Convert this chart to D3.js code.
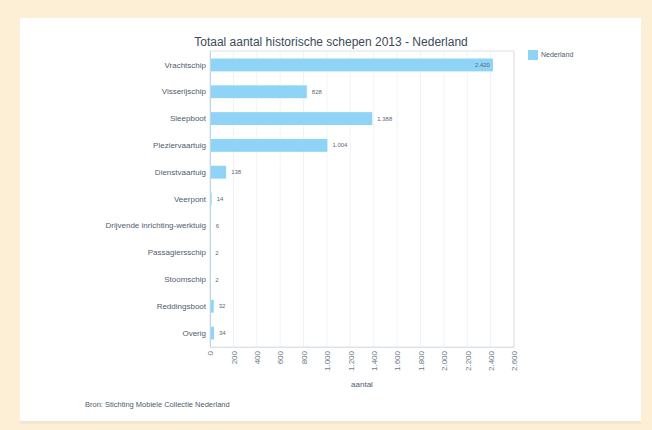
<!DOCTYPE html>
<html>
<head>
    <meta charset="utf-8">
    <title>Totaal aantal historische schepen 2013 - Nederland</title>
    <script src="https://d3js.org/d3.v7.min.js"></script>
    <style>
        body { margin: 0; background: #fdefd6; font-family: "Liberation Sans", Arial, sans-serif; }
        svg { display: block; }
    </style>
</head>
<body>
<script>
    var categories = ["Vrachtschip", "Visserijschip", "Sleepboot", "Pleziervaartuig", "Dienstvaartuig", "Veerpont",
        "Drijvende inrichting-werktuig", "Passagiersschip", "Stoomschip", "Reddingsboot", "Overig"];
    var values = [2420, 828, 1388, 1004, 138, 14, 6, 2, 2, 32, 34];
    var xTicks = [0, 200, 400, 600, 800, 1000, 1200, 1400, 1600, 1800, 2000, 2200, 2400, 2600];
    var seriesName = "Nederland";

    var W = 652, H = 430;
    var margin = {top: 51, right: 138, bottom: 83, left: 210};
    var width = W - margin.left - margin.right,
        height = H - margin.top - margin.bottom;

    var fmt = function(v) { return d3.format(",")(v).replace(/,/g, "."); };

    var svg = d3.select("body").append("svg").attr("width", W).attr("height", H);

    // white panel on beige background
    svg.append("rect").attr("x", 20).attr("y", 18).attr("width", 621).attr("height", 405)
        .attr("fill", "#ffffff");
    svg.append("rect").attr("x", 20).attr("y", 421).attr("width", 621).attr("height", 3)
        .attr("fill", "#f1e6cf");

    var x = d3.scaleLinear().domain([0, 2600]).range([0, width]);
    var y = d3.scaleBand().domain(categories).range([0, height]).paddingInner(0.52).paddingOuter(0.28);

    var g = svg.append("g").attr("transform", "translate(" + margin.left + "," + margin.top + ")");

    // grid
    g.selectAll(".grid").data(xTicks.slice(1)).enter().append("line")
        .attr("x1", d => x(d)).attr("x2", d => x(d))
        .attr("y1", 0).attr("y2", height)
        .attr("stroke", "#f0f3f6").attr("stroke-width", 1);

    g.append("rect").attr("x", 0).attr("y", 0).attr("width", width).attr("height", height)
        .attr("fill", "none").attr("stroke", "#dde3ea");

    // bars
    g.selectAll(".bar").data(categories).enter().append("rect")
        .attr("class", "bar")
        .attr("x", 0)
        .attr("y", d => y(d))
        .attr("width", (d, i) => x(values[i]))
        .attr("height", y.bandwidth())
        .attr("fill", "#8fd4f6");

    // value labels
    g.selectAll(".val").data(categories).enter().append("text")
        .attr("x", (d, i) => values[i] > 2000 ? x(values[i]) - 3 : x(values[i]) + 5)
        .attr("y", d => y(d) + y.bandwidth() / 2)
        .attr("dy", "0.35em")
        .attr("text-anchor", (d, i) => values[i] > 2000 ? "end" : "start")
        .attr("font-size", "6px")
        .attr("fill", "#5a6878")
        .text((d, i) => fmt(values[i]));

    // y axis labels
    var yAxis = g.append("g").call(d3.axisLeft(y).tickSize(0).tickPadding(4));
    yAxis.select(".domain").attr("stroke", "#b9d8ec");
    yAxis.selectAll("text").attr("font-size", "8px").attr("fill", "#4f5d6d")
        .attr("font-family", "Liberation Sans, Arial, sans-serif");

    // x axis
    var xAxis = g.append("g").attr("transform", "translate(0," + height + ")")
        .call(d3.axisBottom(x).tickValues(xTicks).tickSize(0).tickFormat(fmt));
    xAxis.select(".domain").attr("stroke", "#dde3ea");
    xAxis.selectAll("text")
        .attr("transform", "rotate(-90)")
        .attr("x", -4).attr("y", 0).attr("dy", "0.35em")
        .attr("text-anchor", "end")
        .attr("font-size", "8px").attr("fill", "#6a7888")
        .attr("font-family", "Liberation Sans, Arial, sans-serif");

    // title
    svg.append("text").attr("x", 331).attr("y", 46).attr("text-anchor", "middle")
        .attr("font-size", "12px").attr("fill", "#3c4a5a")
        .text("Totaal aantal historische schepen 2013 - Nederland");

    // axis title
    svg.append("text").attr("x", margin.left + width / 2).attr("y", 387).attr("text-anchor", "middle")
        .attr("font-size", "8px").attr("fill", "#4f5d6d").text("aantal");

    // legend
    svg.append("rect").attr("x", 528).attr("y", 50).attr("width", 10).attr("height", 10).attr("fill", "#8fd4f6");
    svg.append("text").attr("x", 541).attr("y", 57).attr("font-size", "7px").attr("fill", "#4f5d6d").text(seriesName);

    // source
    svg.append("text").attr("x", 85).attr("y", 407).attr("font-size", "7.5px").attr("fill", "#4f5d6d")
        .text("Bron: Stichting Mobiele Collectie Nederland");
</script>
</body>
</html>
